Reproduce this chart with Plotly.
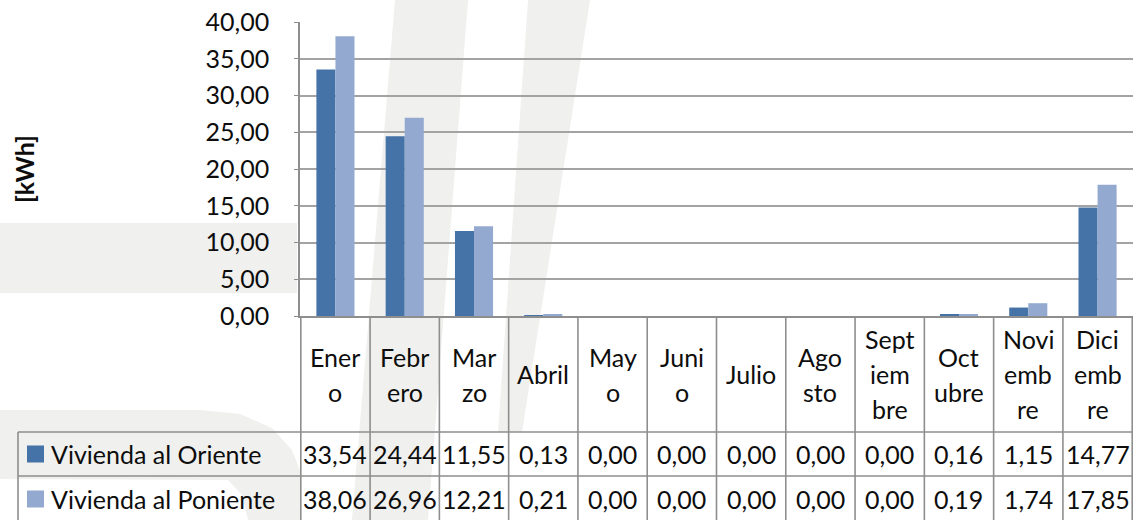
import plotly.graph_objects as go

# ---------------- data ----------------
months = ["Enero", "Febrero", "Marzo", "Abril", "Mayo", "Junio", "Julio",
          "Agosto", "Septiembre", "Octubre", "Noviembre", "Diciembre"]
month_labels = ["Ener\no", "Febr\nero", "Mar\nzo", "Abril", "May\no", "Juni\no",
                "Julio", "Ago\nsto", "Sept\niem\nbre", "Oct\nubre", "Novi\nemb\nre",
                "Dici\nemb\nre"]
series_names = ["Vivienda al Oriente", "Vivienda al Poniente"]
oriente = [33.54, 24.44, 11.55, 0.13, 0.00, 0.00, 0.00, 0.00, 0.00, 0.16, 1.15, 14.77]
poniente = [38.06, 26.96, 12.21, 0.21, 0.00, 0.00, 0.00, 0.00, 0.00, 0.19, 1.74, 17.85]
y_title = "[kWh]"

# ---------------- style ----------------
W, H = 1138, 520
C_DARK = "#4572A7"
C_LIGHT = "#93A9D0"
LINE = "#8e8e8e"
GRID = "#a3a3a3"
TXT = "#0d0d0d"
WM = "#f0f0ee"
FONT = "Lato"
FS = 25

PLOT_L, PLOT_R, PLOT_T, PLOT_B = 300, 1133, 22, 316
HEAD_B, ROW1_B, TABLE_B = 432, 476, 520
LEG_L = 18


def px(p):
    return p / W


def py(p):
    return 1 - p / H


fig = go.Figure()
for name, vals, col in [(series_names[0], oriente, C_DARK),
                        (series_names[1], poniente, C_LIGHT)]:
    fig.add_trace(go.Bar(x=months, y=vals, name=name, marker_color=col,
                         marker_line_width=0))

shapes = []
# ---- watermark (background decoration) ----
def poly(pts):
    d = "M " + " L ".join(f"{px(x):.5f},{py(y):.5f}" for x, y in pts) + " Z"
    return dict(type="path", path=d, xref="paper", yref="paper",
                fillcolor=WM, line_width=0, layer="below")

shapes.append(poly([(0, 223), (297, 223), (297, 293), (0, 293)]))
shapes.append(poly([(395, 0), (468, 0), (428, 520), (352, 520)]))
shapes.append(poly([(528, 0), (590, 0), (522, 432), (498, 432)]))
shapes.append(poly([(0, 410), (200, 410), (240, 414), (272, 428), (292, 450),
                    (300, 470), (300, 520), (248, 520), (242, 495), (228, 480),
                    (0, 479)]))

# ---- table grid lines ----
for i in range(len(months) + 1):
    shapes.append(dict(type="line", xref="x", yref="paper", x0=i - 0.5, x1=i - 0.5,
                       y0=py(PLOT_B), y1=py(TABLE_B + 5),
                       line=dict(color=LINE, width=1.6)))
for yy in (HEAD_B, ROW1_B):
    shapes.append(dict(type="line", xref="paper", yref="paper", x0=px(LEG_L), x1=px(PLOT_R),
                       y0=py(yy), y1=py(yy), line=dict(color=LINE, width=1.6)))
shapes.append(dict(type="line", xref="paper", yref="paper", x0=px(LEG_L), x1=px(LEG_L),
                   y0=py(HEAD_B), y1=py(TABLE_B + 5), line=dict(color=LINE, width=1.6)))

# ---- legend keys ----
row_centers = [(HEAD_B + ROW1_B) / 2, (ROW1_B + TABLE_B) / 2 + 1]
for rc, col in zip(row_centers, [C_DARK, C_LIGHT]):
    shapes.append(dict(type="rect", xref="paper", yref="paper",
                       x0=px(27), x1=px(44), y0=py(rc - 8.5), y1=py(rc + 8.5),
                       fillcolor=col, line_width=0))

annotations = []
# header month labels (each line separately for Excel-like line spacing)
head_c = (PLOT_B + HEAD_B) / 2
LS = 35
for m, lab in zip(months, month_labels):
    lines = lab.split("\n")
    n = len(lines)
    for k, ln in enumerate(lines):
        yc = head_c + (k - (n - 1) / 2) * LS
        annotations.append(dict(x=m, xref="x", y=py(yc), yref="paper", text=ln,
                                showarrow=False, xanchor="center", yanchor="middle",
                                font=dict(family=FONT, size=FS, color=TXT)))
# value cells
for rc, vals in zip(row_centers, [oriente, poniente]):
    for m, v in zip(months, vals):
        annotations.append(dict(x=m, xref="x", y=py(rc), yref="paper",
                                text=f"{v:.2f}".replace(".", ","), showarrow=False,
                                xanchor="center", yanchor="middle",
                                font=dict(family=FONT, size=FS, color=TXT)))
# legend names
for rc, name in zip(row_centers, series_names):
    annotations.append(dict(x=px(49), xref="paper", y=py(rc), yref="paper", text=name,
                            showarrow=False, xanchor="left", yanchor="middle",
                            font=dict(family=FONT, size=FS, color=TXT)))
# y-axis title
annotations.append(dict(x=px(24), xref="paper", y=py(169), yref="paper",
                        text=f"<b>{y_title}</b>", textangle=-90, showarrow=False,
                        xanchor="center", yanchor="middle",
                        font=dict(family=FONT, size=FS, color=TXT)))

fig.update_layout(
    width=W, height=H,
    margin=dict(l=0, r=0, t=0, b=0, pad=0, autoexpand=False),
    paper_bgcolor="white", plot_bgcolor="rgba(0,0,0,0)",
    barmode="group", bargap=0.45, bargroupgap=0,
    showlegend=False,
    separators=",.",
    font=dict(family=FONT, size=FS, color=TXT),
    xaxis=dict(domain=[px(PLOT_L), px(PLOT_R)], showticklabels=False, ticks="",
               showgrid=False, zeroline=False, showline=True, linecolor=LINE,
               linewidth=1.6, categoryorder="array", categoryarray=months,
               automargin=False),
    yaxis=dict(domain=[py(PLOT_B), py(PLOT_T)], range=[0, 40], dtick=5,
               tickformat=".2f", showgrid=True, gridcolor=GRID, gridwidth=1.6,
               zeroline=False, showline=True, linecolor=LINE, linewidth=1.6,
               ticks="outside", ticklen=4, tickcolor=LINE, ticklabelstandoff=20,
               tickfont=dict(family=FONT, size=FS, color=TXT), automargin=False),
    shapes=shapes,
    annotations=annotations,
)

fig.write_html("out.html",
               config={"displayModeBar": False},
               post_script="document.body.style.margin='0';"
                           "document.documentElement.style.overflow='hidden';")
